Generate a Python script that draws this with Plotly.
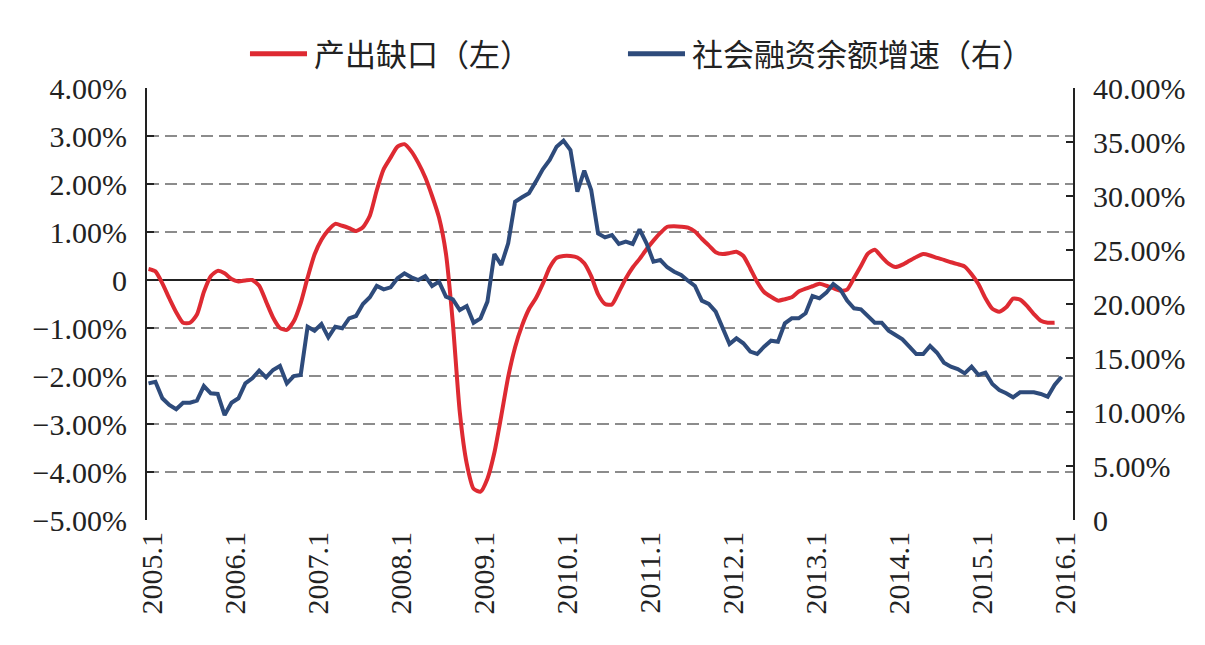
import plotly.graph_objects as go

# Categories: monthly, 2005.1 .. 2016.1
months = [f"{2005 + k // 12}.{k % 12 + 1}" for k in range(133)]
tick_labels = ["2005.1", "2006.1", "2007.1", "2008.1", "2009.1", "2010.1",
               "2011.1", "2012.1", "2013.1", "2014.1", "2015.1", "2016.1"]
series_names = ["产出缺口（左）", "社会融资余额增速（右）"]

# 产出缺口（左）, %
output_gap = [
    0.23, 0.18, -0.07, -0.38, -0.67, -0.89, -0.89, -0.72, -0.25, 0.08, 0.19, 0.14,
    0.02, -0.03, -0.01, 0.00, -0.12, -0.45, -0.78, -1.00, -1.04, -0.86, -0.48, 0.05,
    0.53, 0.84, 1.04, 1.17, 1.13, 1.08, 1.02, 1.10, 1.34, 1.87, 2.31, 2.55,
    2.78, 2.83, 2.68, 2.44, 2.14, 1.75, 1.30, 0.55, -0.90, -2.75, -3.82, -4.35,
    -4.41, -4.14, -3.60, -2.83, -2.02, -1.40, -0.95, -0.61, -0.38, -0.08, 0.26, 0.46,
    0.50, 0.50, 0.47, 0.35, 0.08, -0.30, -0.50, -0.51, -0.25, 0.03, 0.26, 0.44,
    0.64, 0.82, 0.98, 1.11, 1.12, 1.11, 1.09, 1.01, 0.86, 0.72, 0.58, 0.54,
    0.56, 0.59, 0.50, 0.24, -0.04, -0.25, -0.35, -0.43, -0.40, -0.36, -0.24, -0.18,
    -0.13, -0.08, -0.12, -0.17, -0.22, -0.20, 0.04, 0.29, 0.55, 0.63, 0.48, 0.34,
    0.27, 0.32, 0.40, 0.48, 0.54, 0.51, 0.46, 0.42, 0.37, 0.33, 0.28, 0.12,
    -0.09, -0.38, -0.60, -0.66, -0.57, -0.39, -0.41, -0.54, -0.71, -0.85, -0.89, -0.89,
]

# 社会融资余额增速（右）, %
tsf_growth = [
    12.65, 12.80, 11.27, 10.65, 10.25, 10.86, 10.86, 11.05, 12.40, 11.73, 11.67, 9.72,
    10.86, 11.27, 12.65, 13.12, 13.83, 13.21, 13.89, 14.26, 12.65, 13.33, 13.43, 17.90,
    17.53, 18.15, 16.91, 17.90, 17.75, 18.67, 18.89, 20.00, 20.62, 21.67, 21.36, 21.54,
    22.38, 22.84, 22.47, 22.22, 22.59, 21.67, 22.07, 20.68, 20.43, 19.44, 19.81, 18.27,
    18.67, 20.22, 24.63, 23.61, 25.62, 29.47, 29.88, 30.25, 31.33, 32.47, 33.33, 34.57,
    35.12, 34.26, 30.40, 32.35, 30.56, 26.54, 26.17, 26.39, 25.56, 25.77, 25.56, 26.92,
    25.62, 23.92, 24.07, 23.40, 22.99, 22.69, 22.16, 21.67, 20.31, 20.00, 19.29, 17.90,
    16.30, 16.82, 16.36, 15.59, 15.37, 16.05, 16.60, 16.51, 18.21, 18.67, 18.67, 19.14,
    20.74, 20.53, 21.05, 21.85, 21.36, 20.31, 19.60, 19.51, 18.89, 18.27, 18.27, 17.53,
    17.13, 16.73, 16.05, 15.37, 15.37, 16.11, 15.49, 14.57, 14.20, 13.98, 13.58, 14.20,
    13.43, 13.64, 12.59, 12.04, 11.73, 11.36, 11.82, 11.82, 11.82, 11.67, 11.42, 12.50,
    13.27,
]

left_ticks = [-5, -4, -3, -2, -1, 0, 1, 2, 3, 4]
left_text = ["\u22125.00%", "\u22124.00%", "\u22123.00%", "\u22122.00%", "\u22121.00%",
             "0", "1.00%", "2.00%", "3.00%", "4.00%"]
right_ticks = [0, 5, 10, 15, 20, 25, 30, 35, 40]
right_text = ["0", "5.00%", "10.00%", "15.00%", "20.00%", "25.00%", "30.00%",
              "35.00%", "40.00%"]

RED = "#DE2A32"
BLUE = "#2E4B7B"
SERIF = "Liberation Serif, Times New Roman, serif"
CJK = "Noto Sans CJK SC"

xi_red = list(range(len(output_gap)))
xi_blue = list(range(len(tsf_growth)))
tick_pos = [0.5 + 12 * k for k in range(len(tick_labels))]

fig = go.Figure()
fig.add_trace(go.Scatter(
    x=xi_red, y=output_gap, name=series_names[0], mode="lines",
    line=dict(color=RED, width=4, shape="spline", smoothing=0.6),
    customdata=months[:len(output_gap)], yaxis="y", showlegend=False,
))
fig.add_trace(go.Scatter(
    x=xi_blue, y=tsf_growth, name=series_names[1], mode="lines",
    line=dict(color=BLUE, width=4),
    customdata=months[:len(tsf_growth)], yaxis="y2", showlegend=False,
))

# Legend (drawn as key lines + text above the plot)
legend_y = 1.079
legend_items = [(0.1112, 0.1728, 0.1782, RED), (0.5194, 0.5810, 0.5864, BLUE)]
for (x0, x1, xt, col), name in zip(legend_items, series_names):
    fig.add_shape(type="line", xref="paper", yref="paper", x0=x0, x1=x1,
                  y0=legend_y, y1=legend_y, line=dict(color=col, width=5))
    fig.add_annotation(xref="paper", yref="paper", x=xt, y=legend_y + 0.004,
                       xanchor="left", yanchor="middle", text=name, showarrow=False,
                       font=dict(family=CJK, size=31, color="#222"))

fig.update_layout(
    width=1205, height=645,
    margin=dict(l=147, r=132, t=88, b=125),
    paper_bgcolor="white", plot_bgcolor="white",
    showlegend=False,
    xaxis=dict(
        range=[-0.22, 133.66], tickmode="array", tickvals=tick_pos, ticktext=tick_labels,
        tickangle=-90, showgrid=False, zeroline=False, showline=False, ticks="",
        tickfont=dict(family=SERIF, size=30, color="#222"),
        ticklabelstandoff=5,
    ),
    yaxis=dict(
        range=[-5, 4], tickmode="array", tickvals=left_ticks, ticktext=left_text,
        showgrid=True, gridcolor="#8c8c8c", gridwidth=1.5, griddash="12px,6px",
        zeroline=True, zerolinecolor="#222", zerolinewidth=2,
        showline=True, linecolor="#222", linewidth=2,
        ticks="inside", ticklen=7, tickwidth=2, tickcolor="#222",
        tickfont=dict(family=SERIF, size=30, color="#222"),
        ticklabelstandoff=12,
    ),
    yaxis2=dict(
        range=[0, 40], overlaying="y", side="right", tickmode="array",
        tickvals=right_ticks, ticktext=right_text, showgrid=False, zeroline=False,
        showline=True, linecolor="#222", linewidth=2,
        ticks="inside", ticklen=7, tickwidth=2, tickcolor="#222",
        tickfont=dict(family=SERIF, size=30, color="#222"),
        ticklabelstandoff=12,
    ),
)

fig.write_html("out.html")
